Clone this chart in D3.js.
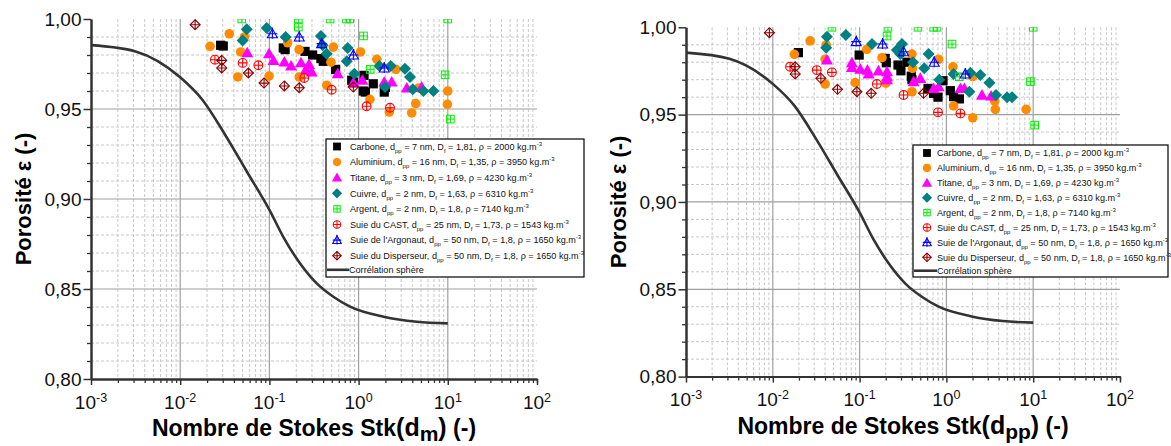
<!DOCTYPE html>
<html><head><meta charset="utf-8">
<script src="https://cdn.jsdelivr.net/npm/d3@7"></script>
<style>
html,body{margin:0;padding:0;background:#fff;}
svg{display:block;font-family:Arial,"Liberation Sans",sans-serif;}
</style></head>
<body><svg id="c" width="1171" height="446"></svg>
<script>
// ---------- DATA ----------
const stkTicks = [1e-3, 1e-2, 1e-1, 1, 10, 100];
const stkTickExp = ["-3", "-2", "-1", "0", "1", "2"];
const epsTicks = [0.80, 0.85, 0.90, 0.95, 1.00];

const seriesNames = ["Carbone", "Aluminium", "Titane", "Cuivre", "Argent", "Suie du CAST", "Suie de l'Argonaut", "Suie du Disperseur"];
const seriesDpp = [7, 16, 3, 2, 2, 25, 50, 50];
const seriesDf = ["1,81", "1,35", "1,69", "1,63", "1,8", "1,73", "1,8", "1,8"];
const seriesRho = [2000, 3950, 4230, 6310, 7140, 1543, 1650, 1650];
const seriesColors = ["#000000", "#ff8c00", "#ff00ff", "#008080", "#00ee00", "#ff0000", "#0000ff", "#8b0000"];
const seriesShapes = ["square", "circle", "triangle", "diamond", "squareCross", "circleCross", "triangleCross", "diamondCross"];

// Correlation sphere [Stk, porosity]
const correlation = [[0.001,0.9855],[0.00316,0.982],[0.01,0.9676],[0.0178,0.955],[0.0316,0.936],[0.0562,0.915],[0.1,0.894],[0.143,0.879],[0.22,0.8643],[0.339,0.8531],[0.521,0.8457],[0.802,0.8402],[1.9,0.8346],[4.48,0.8318],[10,0.8309]];

// Left panel: Stk(dm)
const carboneDm = [[0.0284,0.9854],[0.0304,0.985],[0.143,0.9839],[0.150,0.983],[0.251,0.982],[0.305,0.980],[0.378,0.978],[0.402,0.9765],[0.553,0.972],[0.837,0.966],[0.873,0.965],[1.15,0.9687],[1.13,0.960],[1.19,0.9594],[1.46,0.964],[1.94,0.9594],[2.0,0.962]];
const aluminiumDm = [[0.0216,0.9848],[0.0355,0.9918],[0.0476,0.9817],[0.0525,0.990],[0.0442,0.9678],[0.0991,0.9683],[0.160,0.9868],[0.215,0.983],[0.216,0.9678],[0.439,0.9632],[0.521,0.9844],[0.490,0.976],[1.05,0.9817],[1.60,0.9776],[2.62,0.972],[1.34,0.9554],[2.21,0.9483],[3.94,0.9478],[4.37,0.953],[4.72,0.9617],[9.98,0.960],[9.9,0.9526]];
const titaneDm = [[0.0565,0.9813],[0.099,0.9807],[0.111,0.977],[0.147,0.9761],[0.175,0.9739],[0.226,0.9757],[0.278,0.9748],[0.257,0.972],[0.298,0.9706],[0.583,0.9696],[0.873,0.9646],[1.10,0.966],[1.94,0.965],[2.35,0.965],[3.47,0.9617],[5.09,0.9622]];
const cuivreDm = [[0.0557,0.9943],[0.0501,0.988],[0.0933,0.995],[0.152,0.990],[0.378,0.9906],[0.395,0.9854],[0.439,0.9807],[0.755,0.9839],[0.736,0.9765],[0.895,0.9696],[1.71,0.9739],[2.29,0.9739],[3.31,0.9724],[3.77,0.9678],[1.98,0.9622],[4.05,0.961],[5.32,0.960],[6.89,0.960]];
const argentDm = [[0.049,1.0],[0.211,1.0],[0.211,0.9955],[0.479,1.0],[0.731,1.0],[0.796,1.0],[1.135,0.9906],[1.35,0.972],[10.0,1.0],[9.33,0.969],[10.7,0.9444]];
const castDm = [[0.0245,0.9774],[0.0501,0.9756],[0.0752,0.9743],[0.246,0.9672],[0.499,0.9607],[1.23,0.9515],[2.25,0.9507]];
const argonautDm = [[0.108,0.9918],[0.216,0.990],[0.385,0.9863],[0.873,0.980],[1.94,0.9728]];
const disperseurDm = [[0.0147,0.9968],[0.0292,0.977],[0.0292,0.9728],[0.0581,0.970],[0.0871,0.9644],[0.147,0.9628],[0.216,0.9618],[0.873,0.9622]];

// Right panel: Stk(dpp)
const carboneDpp = [[0.0197,0.9855],[0.0989,0.9841],[0.197,0.9822],[0.203,0.9797],[0.277,0.9784],[0.299,0.9751],[0.351,0.980],[0.394,0.972],[0.401,0.970],[0.614,0.965],[0.713,0.9622],[0.80,0.960],[0.914,0.9694],[1.11,0.9637],[1.21,0.9603],[1.41,0.959]];
const aluminiumDpp = [[0.0177,0.9845],[0.0269,0.9922],[0.0412,0.9899],[0.0401,0.9817],[0.0401,0.9675],[0.0889,0.9683],[0.121,0.9874],[0.181,0.9826],[0.201,0.968],[0.401,0.9847],[0.407,0.9765],[0.401,0.9631],[0.813,0.9817],[1.19,0.9774],[2.01,0.9717],[1.21,0.955],[2.01,0.9482],[3.60,0.9578],[3.66,0.953],[8.28,0.953]];
const titaneDpp = [[0.042,0.9813],[0.0815,0.9797],[0.0815,0.977],[0.102,0.976],[0.123,0.9755],[0.127,0.9733],[0.165,0.9751],[0.207,0.9746],[0.207,0.9717],[0.207,0.970],[0.419,0.9689],[0.50,0.9708],[0.713,0.965],[0.813,0.966],[1.45,0.965],[1.61,0.965],[2.57,0.9612],[3.27,0.9607]];
const cuivreDpp = [[0.042,0.9946],[0.0412,0.9883],[0.0695,0.9956],[0.139,0.9904],[0.308,0.9904],[0.269,0.987],[0.294,0.9847],[0.412,0.980],[0.624,0.9847],[0.556,0.9765],[0.828,0.970],[1.21,0.9733],[1.89,0.974],[2.46,0.9727],[3.13,0.9683],[1.84,0.9631],[3.73,0.9612],[5.0,0.960],[5.71,0.960]];
const argentDpp = [[0.048,1.0],[0.212,1.0],[0.207,0.995],[0.47,1.0],[0.713,1.0],[0.78,1.0],[1.16,0.9904],[1.41,0.9717],[10,1.0],[9.29,0.9689],[10.4,0.944]];
const castDpp = [[0.0158,0.9774],[0.0321,0.9755],[0.048,0.9742],[0.158,0.9675],[0.321,0.9612],[0.80,0.9513],[1.45,0.9507]];
const argonautDpp = [[0.0914,0.9918],[0.184,0.9904],[0.321,0.986],[0.724,0.980],[1.65,0.9733]];
const disperseurDpp = [[0.00914,0.9969],[0.0181,0.9774],[0.0181,0.9733],[0.0358,0.9708],[0.0556,0.9645],[0.0931,0.9631],[0.136,0.9622],[0.546,0.9622]];

const dmSets = [carboneDm, aluminiumDm, titaneDm, cuivreDm, argentDm, castDm, argonautDm, disperseurDm];
const dppSets = [carboneDpp, aluminiumDpp, titaneDpp, cuivreDpp, argentDpp, castDpp, argonautDpp, disperseurDpp];

// ---------- DRAW ----------
const svg = d3.select("#c");

function drawMarker(g, shape, color, s) {
  if (shape === "square") {
    g.append("rect").attr("x", -4.6*s).attr("y", -4.6*s).attr("width", 9.2*s).attr("height", 9.2*s).attr("fill", color);
  } else if (shape === "circle") {
    g.append("circle").attr("r", 4.8*s).attr("fill", color);
  } else if (shape === "triangle") {
    g.append("path").attr("d", `M0,${-6*s}L${6*s},${4.6*s}L${-6*s},${4.6*s}Z`).attr("fill", color);
  } else if (shape === "diamond") {
    g.append("path").attr("d", `M0,${-6*s}L${6*s},0L0,${6*s}L${-6*s},0Z`).attr("fill", color);
  } else if (shape === "squareCross") {
    const h = 3.8*s;
    g.append("rect").attr("x", -h).attr("y", -h).attr("width", 2*h).attr("height", 2*h).attr("fill", "none").attr("stroke", color).attr("stroke-width", 1);
    g.append("path").attr("d", `M${-h},0H${h}M0,${-h}V${h}`).attr("stroke", color).attr("stroke-width", 1);
  } else if (shape === "circleCross") {
    const r = 4.4*s;
    g.append("circle").attr("r", r).attr("fill", "none").attr("stroke", color).attr("stroke-width", 1.1);
    g.append("path").attr("d", `M${-r},0H${r}M0,${-r}V${r}`).attr("stroke", color).attr("stroke-width", 1.1);
  } else if (shape === "triangleCross") {
    const h = 5*s;
    g.append("path").attr("d", `M0,${-h}L${h},${h*0.8}L${-h},${h*0.8}Z`).attr("fill", "none").attr("stroke", color).attr("stroke-width", 1.1);
    g.append("path").attr("d", `M${-h},0H${h}M0,${-h-1}V${h*0.8+1}`).attr("stroke", color).attr("stroke-width", 1.1);
  } else if (shape === "diamondCross") {
    const h = 5*s;
    g.append("path").attr("d", `M0,${-h}L${h},0L0,${h}L${-h},0Z`).attr("fill", "none").attr("stroke", color).attr("stroke-width", 1.1);
    g.append("path").attr("d", `M${-h},0H${h}M0,${-h}V${h}`).attr("stroke", color).attr("stroke-width", 1.1);
  }
}

const panels = [
  {id:"L", x0:91, x1:537, yTop:19, yBot:379, sets:dmSets, sub:"m", yTitleX:23,
   leg:{x:326, y:139, w:258, h:138, row0:146.5, step:15.6, symX:337, textX:350, lineX0:327, lineX1:349}},
  {id:"R", x0:686, x1:1120, yTop:27.3, yBot:376.6, sets:dppSets, sub:"pp", yTitleX:618,
   leg:{x:913, y:145, w:255, h:132, row0:153, step:14.9, symX:927, textX:937, lineX0:914, lineX1:937}}
];

const minorStk = [];
for (let e = -3; e < 2; e++) for (let m = 2; m <= 9; m++) minorStk.push(m * Math.pow(10, e));
const minorEps = d3.range(81, 100).filter(v => v % 5 !== 0).map(v => v / 100);

panels.forEach(p => {
  const x = d3.scaleLog().domain([1e-3, 100]).range([p.x0, p.x1]);
  const y = d3.scaleLinear().domain([0.80, 1.00]).range([p.yBot, p.yTop]);
  const g = svg.append("g");

  // minor grid (dashed)
  g.append("g").selectAll("line").data(minorStk).join("line")
    .attr("x1", d => x(d)).attr("x2", d => x(d)).attr("y1", p.yTop).attr("y2", p.yBot)
    .attr("stroke", "#c8c8c8").attr("stroke-width", 1).attr("stroke-dasharray", "3,2");
  g.append("g").selectAll("line").data(minorEps).join("line")
    .attr("x1", p.x0).attr("x2", p.x1).attr("y1", d => y(d)).attr("y2", d => y(d))
    .attr("stroke", "#c8c8c8").attr("stroke-width", 1).attr("stroke-dasharray", "3,2");
  // major grid
  g.append("g").selectAll("line").data(stkTicks.slice(1, 5)).join("line")
    .attr("x1", d => x(d)).attr("x2", d => x(d)).attr("y1", p.yTop).attr("y2", p.yBot)
    .attr("stroke", "#a0a0a0").attr("stroke-width", 1.2);
  g.append("g").selectAll("line").data([0.85, 0.90, 0.95]).join("line")
    .attr("x1", p.x0).attr("x2", p.x1).attr("y1", d => y(d)).attr("y2", d => y(d))
    .attr("stroke", "#a0a0a0").attr("stroke-width", 1.2);

  // correlation curve
  const line = d3.line().x(d => x(d[0])).y(d => y(d[1])).curve(d3.curveMonotoneX);
  g.append("path").datum(correlation).attr("d", line).attr("fill", "none")
    .attr("stroke", "#333").attr("stroke-width", 2.6);

  // markers (clipped to the plot)
  const clipId = "clip" + p.id;
  svg.append("clipPath").attr("id", clipId).append("rect")
    .attr("x", p.x0).attr("y", p.yTop).attr("width", p.x1 - p.x0 + 8).attr("height", p.yBot - p.yTop);
  const mg = g.append("g").attr("clip-path", `url(#${clipId})`);
  p.sets.forEach((set, i) => {
    set.forEach(d => {
      const mk = mg.append("g").attr("transform", `translate(${x(d[0])},${y(d[1])})`);
      drawMarker(mk, seriesShapes[i], seriesColors[i], 1);
    });
  });

  // axes
  const ax = g.append("g").attr("transform", `translate(0,${p.yBot})`);
  ax.call(d3.axisBottom(x).tickValues(minorStk.concat([100])).tickSize(4).tickSizeOuter(0).tickFormat(""));
  ax.selectAll(".tick line").attr("stroke", "#333").attr("stroke-width", 1.3);
  const axM = g.append("g").attr("transform", `translate(0,${p.yBot})`);
  axM.call(d3.axisBottom(x).tickValues(stkTicks).tickSize(6).tickSizeOuter(0).tickFormat(""));
  axM.selectAll(".tick line").attr("stroke", "#333").attr("stroke-width", 1.5);
  ax.select(".domain").attr("stroke", "#333").attr("stroke-width", 2);
  axM.select(".domain").attr("stroke", "#333").attr("stroke-width", 2);

  // x tick labels
  stkTicks.forEach((v, i) => {
    const t = g.append("text").attr("x", x(v)).attr("y", p.yBot + 29.5)
      .attr("text-anchor", "middle").attr("font-size", 19).attr("fill", "#111");
    t.append("tspan").text("10");
    t.append("tspan").attr("font-size", 12.5).attr("dy", -7).text(stkTickExp[i]);
  });

  const ay = g.append("g").attr("transform", `translate(${p.x0},0)`);
  ay.call(d3.axisLeft(y).tickValues(minorEps).tickSize(4).tickSizeOuter(0).tickFormat(""));
  ay.selectAll(".tick line").attr("stroke", "#333").attr("stroke-width", 1.3);
  const ayM = g.append("g").attr("transform", `translate(${p.x0},0)`);
  ayM.call(d3.axisLeft(y).tickValues(epsTicks).tickSize(7.5).tickSizeOuter(0).tickPadding(2)
    .tickFormat(d => d.toFixed(2).replace(".", ",")));
  ayM.selectAll(".tick line").attr("stroke", "#333").attr("stroke-width", 1.5);
  ayM.selectAll(".tick text").attr("font-size", 19).attr("fill", "#111").attr("font-family", "Arial, 'Liberation Sans', sans-serif");
  ay.select(".domain").attr("stroke", "#333").attr("stroke-width", 2);
  ayM.select(".domain").attr("stroke", "#333").attr("stroke-width", 2);

  // axis titles
  const cx = (p.x0 + p.x1) / 2;
  const xt = g.append("text").attr("x", cx).attr("y", p.yBot + 57).attr("text-anchor", "middle")
    .attr("font-weight", "bold").attr("font-size", 23).attr("fill", "#000");
  xt.append("tspan").text("Nombre de Stokes Stk");
  xt.append("tspan").attr("font-size", 25).text("(d");
  xt.append("tspan").attr("font-size", 21).attr("dy", 5).text(p.sub);
  xt.append("tspan").attr("font-size", 25).attr("dy", -5).text(")");
  xt.append("tspan").text(" (-)");

  const cy = (p.yTop + p.yBot) / 2;
  g.append("text").attr("transform", `translate(${p.yTitleX + 8},${cy}) rotate(-90)`)
    .attr("text-anchor", "middle").attr("font-weight", "bold").attr("font-size", 22).attr("fill", "#000")
    .text("Porosité ε (-)");

  // legend
  const L = p.leg;
  const lg = g.append("g");
  lg.append("rect").attr("x", L.x).attr("y", L.y).attr("width", L.w).attr("height", L.h)
    .attr("fill", "#fff").attr("stroke", "#000").attr("stroke-width", 1.2);
  seriesNames.forEach((name, i) => {
    const ry = L.row0 + i * L.step;
    const mk = lg.append("g").attr("transform", `translate(${L.symX},${ry})`);
    drawMarker(mk, seriesShapes[i], seriesColors[i], 0.85);
    const t = lg.append("text").attr("x", L.textX).attr("y", ry + 3.3).attr("font-size", 9.1).attr("fill", "#111");
    t.append("tspan").text(name + ", d");
    t.append("tspan").attr("font-size", 6).attr("dy", 3).text("pp");
    t.append("tspan").attr("dy", -3).text(" = " + seriesDpp[i] + " nm, D");
    t.append("tspan").attr("font-size", 6).attr("dy", 3).text("f");
    t.append("tspan").attr("dy", -3).text(" = " + seriesDf[i] + ", ρ = " + seriesRho[i] + " kg.m");
    t.append("tspan").attr("font-size", 6).attr("dy", -4).text("-3");
  });
  const ly = L.row0 + 8 * L.step - 1.5;
  lg.append("line").attr("x1", L.lineX0).attr("x2", L.lineX1).attr("y1", ly).attr("y2", ly)
    .attr("stroke", "#333").attr("stroke-width", 2.6);
  lg.append("text").attr("x", L.lineX1).attr("y", ly + 3.3).attr("font-size", 9.1).attr("fill", "#111")
    .text("Corrélation sphère");
});
</script>
</body></html>
